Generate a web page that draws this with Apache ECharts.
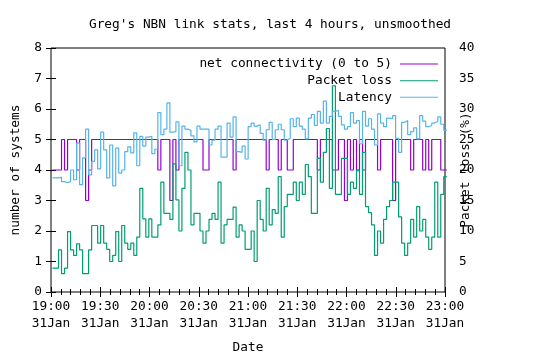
<!DOCTYPE html>
<html><head><meta charset="utf-8">
<script src="https://cdn.jsdelivr.net/npm/echarts@6/dist/echarts.min.js"></script>
<style>html,body{margin:0;padding:0;background:#fff}#c{width:540px;height:360px}</style>
</head><body><div id="c"></div>
<script>
const FONT = 'DejaVu Sans Mono';
const titleText = "Greg's NBN link stats, last 4 hours, unsmoothed";
const seriesNames = ['net connectivity (0 to 5)', 'Packet loss', 'Latency'];
const seriesColors = ['#9400d3', '#009e73', '#56b4e9'];
const xTickLabels = ['19:00','19:30','20:00','20:30','21:00','21:30','22:00','22:30','23:00'];
const xDateLabel = '31Jan';
const xAxisName = 'Date';
const yAxisName = 'number of systems';
const y2AxisName = 'Packet loss (%)';
// sampling: first sample 55 s after 19:00, then every 110 s (minutes on the x axis)
const sampleStartSec = 55;
const sampleStepSec = 110;

const netConnectivity = [
4,4,4,5,4,5,5,5,4,5,
5,3,4,5,5,5,5,5,5,5,
5,5,5,5,5,5,5,5,5,5,
5,5,5,5,5,4,5,5,5,3,
5,4,5,5,5,5,5,5,5,5,
4,4,5,5,5,5,5,5,5,5,
4,5,5,5,5,5,5,5,5,5,
5,4,5,5,5,4,5,5,4,4,
5,5,5,5,5,5,5,5,4,5,
5,5,5,4,4,5,5,3,5,4,
5,4,5,4,5,5,5,5,4,5,
5,5,5,3,5,5,5,5,5,4,
5,5,5,4,5,4,5,5,5,4,
4,4];

const packetLoss = [
3.9,3.9,6.9,3.0,3.9,9.9,6.9,6.0,7.9,6.9,
3.0,3.0,6.9,10.9,10.9,8.0,10.9,8.0,7.0,5.0,
6.0,9.9,5.0,10.9,8.0,7.0,8.0,6.0,9.0,17.0,
12.0,9.0,12.0,9.0,9.0,11.0,18.0,12.9,12.9,11.9,
21.0,15.1,10.0,17.0,22.9,20.0,11.0,12.9,12.9,10.0,
8.0,10.0,11.9,12.9,11.9,18.0,8.0,11.0,11.9,11.9,
13.9,9.0,11.0,10.0,7.0,7.0,10.0,5.0,15.0,11.9,
10.0,17.0,11.0,13.5,12.9,18.9,9.0,14.0,16.0,16.0,
18.0,15.0,18.0,16.0,20.9,18.9,12.9,12.9,21.9,18.0,
22.9,26.8,17.0,33.8,16.0,16.0,21.9,21.9,16.0,18.0,
17.0,19.9,16.0,22.9,14.0,13.0,11.0,6.0,10.0,8.0,
11.9,14.0,15.0,18.0,18.0,12.3,8.0,6.0,8.0,11.9,
9.0,14.0,10.0,11.9,9.0,7.0,9.0,18.0,9.0,16.0,
18.9,18.9];

const latency = [
18.7,18.7,18.8,18.1,17.9,18.1,20.0,18.4,24.4,17.6,
22.0,26.7,19.2,21.4,23.3,20.2,26.2,23.3,18.7,24.1,
17.4,23.6,19.5,20.0,23.0,23.8,22.8,26.1,20.7,25.5,
23.9,25.4,25.5,22.7,23.4,29.4,25.8,26.7,31.0,26.2,
26.3,27.9,20.7,27.2,26.7,26.5,25.6,24.6,27.2,26.7,
26.7,26.7,24.1,24.9,26.7,27.2,22.1,22.1,27.7,25.4,
28.7,23.0,22.9,23.9,21.8,27.1,27.7,27.2,27.4,26.0,
24.9,26.6,27.8,25.0,26.6,27.5,26.6,24.9,25.2,28.4,
27.1,28.5,27.2,26.7,25.1,28.5,29.1,27.3,29.6,27.7,
31.3,27.7,28.8,29.6,29.8,28.8,27.4,26.7,27.1,29.4,
27.7,28.1,24.3,29.6,27.2,28.4,26.7,24.1,29.2,27.7,
27.1,28.5,28.4,28.9,25.2,22.9,27.8,28.1,25.8,26.3,
26.9,25.1,28.9,28.0,27.1,27.3,27.7,28.0,28.7,27.5,
26.5,26.5];

function toPairs(values) {
  return values.map((v, i) => [(sampleStartSec + i * sampleStepSec) / 60, v]);
}

const txt = { fontFamily: FONT, fontSize: 12.8, color: '#000' };
const legendCenters = [58, 74.7, 91.3];

const chart = echarts.init(document.getElementById('c'), null, { renderer: 'canvas' });
chart.setOption({
  animation: false,
  backgroundColor: '#fff',
  title: {
    text: titleText, left: 'center', top: 18, padding: [0, 47, 0, 0],
    textStyle: Object.assign({ fontWeight: 'normal' }, txt)
  },
  legend: seriesNames.map((name, i) => ({
    data: [name], orient: 'vertical', align: 'right',
    right: 102, top: legendCenters[i] - 0.5, padding: 0,
    itemWidth: 38, itemHeight: 1, icon: 'rect', selectedMode: false,
    itemStyle: { borderWidth: 0 },
    textStyle: Object.assign({ padding: [0, 3, 0, 0] }, txt)
  })),
  grid: {
    left: 51, right: 95, top: 48, bottom: 68,
    show: true, borderColor: '#000', borderWidth: 1, backgroundColor: 'transparent',
    containLabel: false, outerBoundsMode: 'none'
  },
  xAxis: [{
    type: 'value', min: 0, max: 240, interval: 30, position: 'bottom',
    axisLine: { show: false },
    axisTick: { show: true, inside: true, length: 5, lineStyle: { color: '#000', width: 1 } },
    minorTick: { show: true, splitNumber: 5, length: 3, lineStyle: { color: '#000', width: 1 } },
    splitLine: { show: false }, minorSplitLine: { show: false },
    axisLabel: Object.assign({
      margin: 6, lineHeight: 17,
      formatter: v => xTickLabels[Math.round(v / 30)] + '\n' + xDateLabel
    }, txt),
    name: xAxisName, nameLocation: 'middle', nameGap: 49, nameMoveOverlap: false,
    nameTextStyle: txt
  }, {
    type: 'value', min: 0, max: 240, interval: 30, position: 'top',
    axisLine: { show: false },
    axisTick: { show: true, inside: true, length: 5, lineStyle: { color: '#000', width: 1 } },
    minorTick: { show: true, splitNumber: 5, length: 3, lineStyle: { color: '#000', width: 1 } },
    splitLine: { show: false }, axisLabel: { show: false }
  }],
  yAxis: [{
    type: 'value', min: 0, max: 8, interval: 1, position: 'left',
    axisLine: { show: false },
    axisTick: { show: true, inside: true, length: 5, lineStyle: { color: '#000', width: 1 } },
    splitLine: { show: false },
    axisLabel: Object.assign({ margin: 9 }, txt),
    name: yAxisName, nameLocation: 'middle', nameRotate: 90, nameGap: 29, nameMoveOverlap: false,
    nameTextStyle: txt
  }, {
    type: 'value', min: 0, max: 40, interval: 5, position: 'right',
    axisLine: { show: false },
    axisTick: { show: true, inside: true, length: 5, lineStyle: { color: '#000', width: 1 } },
    splitLine: { show: false },
    axisLabel: Object.assign({ margin: 14 }, txt),
    name: y2AxisName, nameLocation: 'middle', nameRotate: 90, nameGap: 14, nameMoveOverlap: false,
    nameTextStyle: txt
  }],
  series: [
    { name: seriesNames[0], type: 'line', step: 'end', yAxisIndex: 0, data: toPairs(netConnectivity) },
    { name: seriesNames[1], type: 'line', step: 'end', yAxisIndex: 1, data: toPairs(packetLoss) },
    { name: seriesNames[2], type: 'line', step: 'end', yAxisIndex: 1, data: toPairs(latency) }
  ].map((s, i) => Object.assign(s, {
    symbol: 'none', showSymbol: false, clip: true,
    color: seriesColors[i], lineStyle: { color: seriesColors[i], width: 1.2 }
  }))
});
</script></body></html>
